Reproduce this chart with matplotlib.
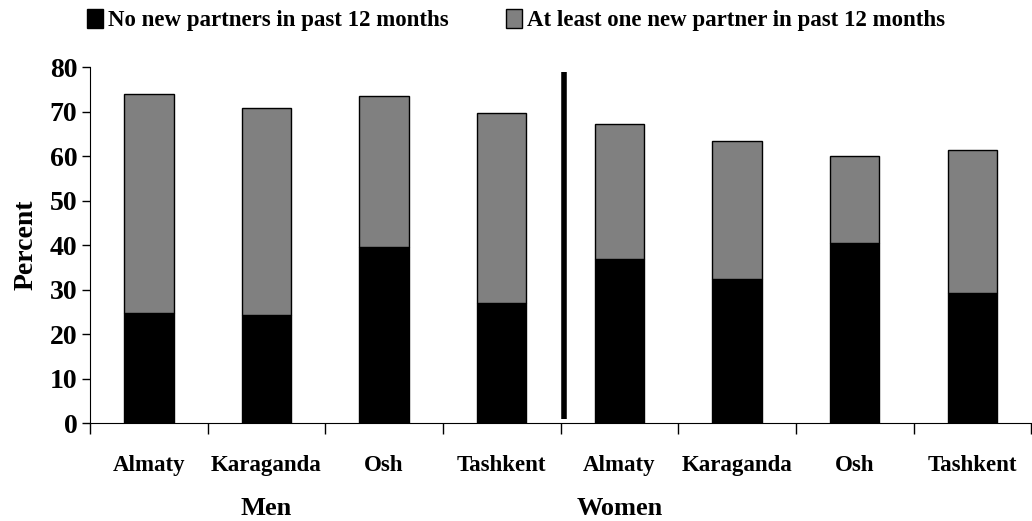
import matplotlib
matplotlib.use("Agg")
import matplotlib.pyplot as plt
from matplotlib.patches import Patch

plt.rcParams["font.family"] = "Liberation Serif"
plt.rcParams["font.weight"] = "bold"

# Values
cities = ["Almaty", "Karaganda", "Osh", "Tashkent", "Almaty", "Karaganda", "Osh", "Tashkent"]
no_new = [24.8, 24.3, 39.6, 27.1, 36.8, 32.3, 40.5, 29.3]
one_new = [49.2, 46.5, 34.0, 42.5, 30.4, 31.0, 19.5, 32.1]
groups = ["Men", "Women"]
group_pos = [1.0, 4.0]
legend_labels = ["No new partners in past 12 months", "At least one new partner in past 12 months"]

fig = plt.figure(figsize=(10.32, 5.21), dpi=100)
ax = fig.add_axes([0.0872, 0.188, 0.912, 0.683])

x = list(range(len(cities)))
ax.bar(x, no_new, width=0.42, color="black", edgecolor="black", linewidth=1)
ax.bar(x, one_new, width=0.42, bottom=no_new, color="#808080", edgecolor="black", linewidth=1)

# divider between men and women
ax.plot([3.53, 3.53], [1, 79], color="black", linewidth=4, solid_capstyle="butt")

ax.set_xlim(-0.5, 7.5)
ax.set_ylim(0, 80)
ax.set_yticks(range(0, 81, 10))
ax.tick_params(axis="y", labelsize=20, length=6, direction="out", width=1, pad=3)
ax.set_xticks([i - 0.5 for i in range(len(cities) + 1)])
ax.set_xticklabels([])
ax.tick_params(axis="x", which="major", length=8, width=1, direction="out")
ax.set_xticks(x, minor=True)
ax.set_xticklabels(cities, minor=True, fontsize=16.5, fontweight="bold")
ax.tick_params(axis="x", which="minor", length=0, pad=23)

for g, p in zip(groups, group_pos):
    ax.text(p, -0.24, g, transform=ax.get_xaxis_transform(), ha="center", va="center",
            fontsize=19, fontweight="bold")

ax.set_ylabel("Percent", fontsize=20, fontweight="bold", labelpad=8)
ax.spines["top"].set_visible(False)
ax.spines["right"].set_visible(False)

handles = [Patch(facecolor="black", edgecolor="black"), Patch(facecolor="#808080", edgecolor="black")]
fig.legend(handles, legend_labels, loc="center", bbox_to_anchor=(0.5, 0.962), ncol=2, frameon=False,
           prop={"size": 16.5, "weight": "bold"}, handlelength=0.7, handleheight=0.9,
           handletextpad=0.2, columnspacing=2.5)

fig.savefig("out.png", dpi=100)
